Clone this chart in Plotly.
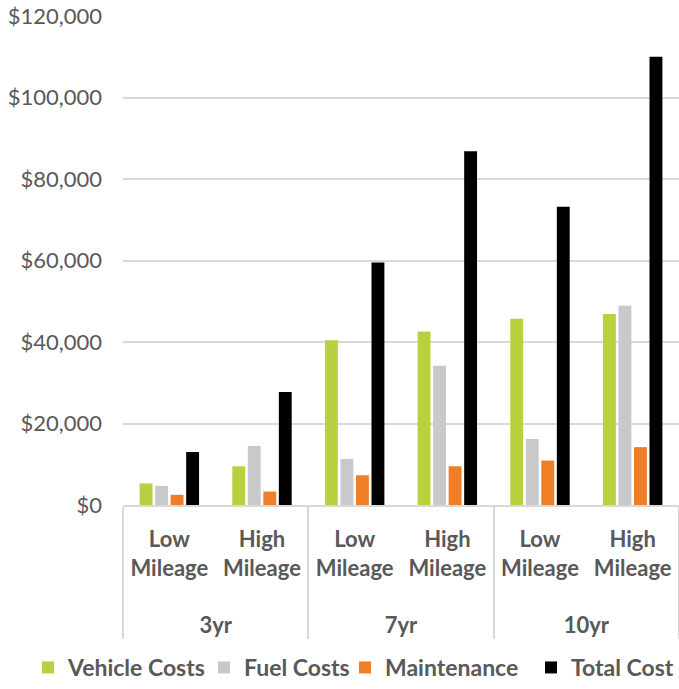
import plotly.graph_objects as go

PAD = '<br><span style="font-size:82px"> </span>'
periods = ["3yr", "3yr", "7yr", "7yr", "10yr", "10yr"]
mileage = ["Low<br>Mileage" + PAD, "High<br>Mileage" + PAD] * 3

series_names = ["Vehicle Costs", "Fuel Costs", "Maintenance", "Total Cost"]
vehicle_costs = [5300, 9500, 40400, 42600, 45700, 46900]
fuel_costs = [4700, 14500, 11300, 34200, 16200, 48900]
maintenance = [2500, 3300, 7300, 9500, 10900, 14200]
total_cost = [13000, 27700, 59500, 86800, 73200, 110000]
colors = ["#BBD03F", "#C9C9C9", "#F07E26", "#000000"]

values = [vehicle_costs, fuel_costs, maintenance, total_cost]

FONT = "Lato, Carlito, Calibri, sans-serif"
GRAY = "#595959"
W, H = 679, 689

legend_ids = ["legend", "legend2", "legend3", "legend4"]
legend_left_px = [28, 204, 345, 531]

fig = go.Figure()
for name, vals, col, lid in zip(series_names, values, colors, legend_ids):
    fig.add_trace(go.Bar(
        x=[periods, mileage], y=vals, name=name, legend=lid,
        marker=dict(color=col, line=dict(width=0)),
    ))

legend_common = dict(
    orientation="h", xref="container", yref="container",
    xanchor="left", y=-6 / H, yanchor="bottom",
    font=dict(family=FONT, size=23, color=GRAY, weight="bold"),
    itemwidth=30, bgcolor="rgba(0,0,0,0)",
)
legend_layout = {}
for lid, lx in zip(legend_ids, legend_left_px):
    legend_layout[lid] = dict(legend_common, x=lx / W)

fig.update_layout(
    width=W, height=H,
    margin=dict(l=123, r=0, t=16, b=184),
    plot_bgcolor="white", paper_bgcolor="white",
    barmode="group", bargap=0.33, bargroupgap=0.17,
    font=dict(family=FONT, color=GRAY, size=22),
    showlegend=True,
    **legend_layout,
)
fig.update_yaxes(
    range=[0, 120000], dtick=20000, tickprefix="$", tickformat=",",
    showgrid=True, gridcolor="#D9D9D9", gridwidth=1.5,
    zeroline=False, showline=False, ticks="", ticklabelstandoff=20,
    tickfont=dict(family=FONT, size=22, color=GRAY), automargin=False,
)
fig.update_xaxes(
    showline=True, linecolor="#D9D9D9", linewidth=1.5,
    showdividers=True, dividercolor="#D9D9D9", dividerwidth=1.5,
    tickfont=dict(family=FONT, size=22, color=GRAY, weight="bold"),
    ticks="", automargin=False, ticklabelstandoff=14,
)

fig.write_html(
    "out.html",
    config={"displayModeBar": False},
    post_script="document.body.style.margin='0';document.body.style.padding='0';",
)
